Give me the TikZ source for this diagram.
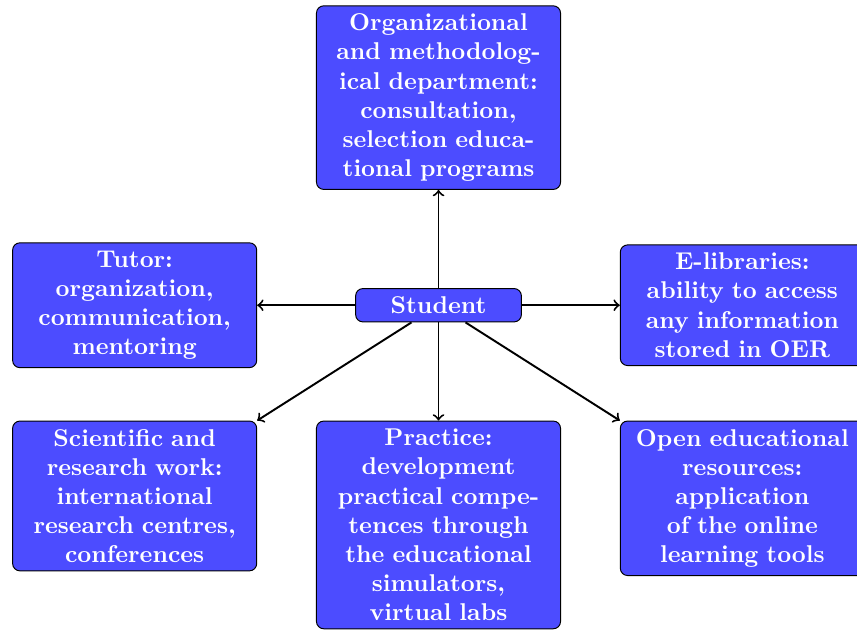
\documentclass[tikz,border=0pt]{standalone}
\usepackage{tikz}
\tikzset{
  every node/.style = {font = \bfseries}
}
\tikzset{
  box/.style = {draw, rounded corners=3pt, fill=blue!70, text=white,
    text width=3.3cm, align=center},
  hub/.style = {draw, rounded corners=3pt, fill=blue!70, text=white,
    minimum width=2.4cm},
  link/.style = {->, thick}
}

\begin{document}
\begin{tikzpicture}
\def\dx{4.4}
\def\dy{1.67}

\useasboundingbox (-6.35,-4.69) rectangle (6.06,4.42);

% Student in the middle
\node[hub] (student) at (0,0) {Student};

% Top and middle row
\node[box, anchor=south] (dept) at (0,\dy)
  {Organizational and methodological department: consultation, selection educational programs};
\node[box] (tutor) at (-\dx,0)
  {Tutor:\\ organization,\\ communication,\\ mentoring};
\node[box] (elib) at (\dx,0)
  {E-libraries:\\ ability to access\\ any information\\ stored in OER};

% Bottom row
\node[box, anchor=north] (science) at (-\dx,-\dy)
  {Scientific and research work: international research centres, conferences};
\node[box, anchor=north] (practice) at (0,-\dy)
  {Practice:\\ development\\ practical compe-\\tences through\\ the educational\\ simulators,\\ virtual labs};
\node[box, anchor=north] (oer) at (\dx,-\dy)
  {Open educational\\ resources:\\ application\\ of the online\\ learning tools};

% Arrows
\draw[link] (student) -- (dept);
\draw[link] (student) -- (tutor);
\draw[link] (student) -- (elib);
\draw[link] (student) -- (practice);
\draw[link] (student) -- (science.north east);
\draw[link] (student) -- (oer.north west);
\end{tikzpicture}
\end{document}
